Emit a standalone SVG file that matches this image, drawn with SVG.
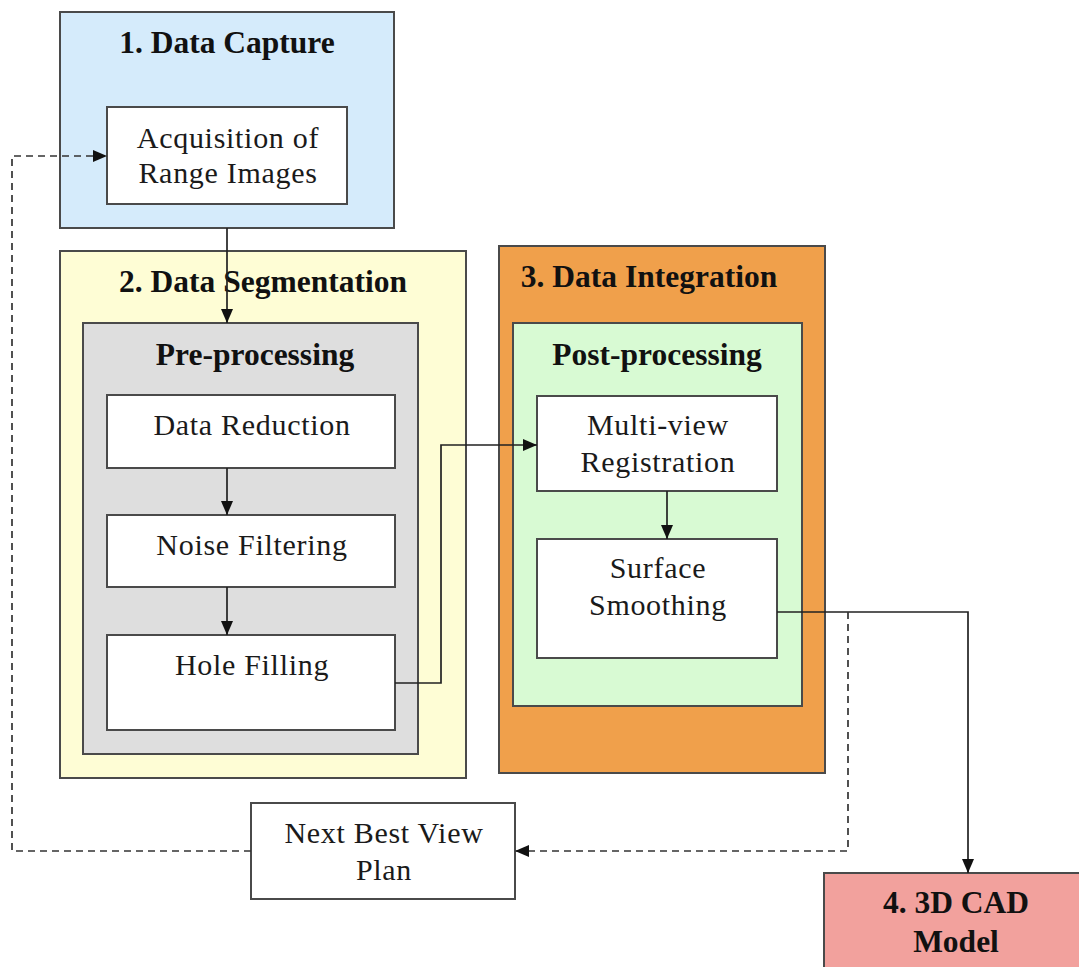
<svg xmlns="http://www.w3.org/2000/svg" width="1079" height="967" viewBox="0 0 1079 967">
<style>
.box{stroke:#4a4a4a;stroke-width:2}
.w{fill:#ffffff}
.t{font-family:"Liberation Serif","Times New Roman",serif;font-size:30px;fill:#1a1a1a;text-anchor:middle;letter-spacing:0.7px}
.b{font-family:"Liberation Serif","Times New Roman",serif;font-size:31.5px;font-weight:bold;fill:#111;text-anchor:middle}
.c{fill:none;stroke:#222;stroke-width:1.7}
.d{fill:none;stroke:#333;stroke-width:1.7;stroke-dasharray:7 5}
</style>
<defs>
<marker id="ah" viewBox="0 0 14 12" refX="14" refY="6" markerWidth="14" markerHeight="12" markerUnits="userSpaceOnUse" orient="auto">
<path d="M0,0 L14,6 L0,12 Z" fill="#111"/>
</marker>
</defs>
<rect width="1079" height="967" fill="#ffffff"/>

<g id="data-capture">
<rect class="box" x="60" y="12" width="334" height="216" fill="#d5ebfb"/>
<text class="b" x="227" y="53">1. Data Capture</text>
</g>
<g id="acquisition">
<rect class="box w" x="107" y="107" width="240" height="97"/>
<text class="t" x="228" y="148">Acquisition of</text>
<text class="t" x="228" y="183">Range Images</text>
</g>

<g id="data-segmentation">
<rect class="box" x="60" y="251" width="406" height="527" fill="#fefdd5"/>
<text class="b" x="263" y="292">2. Data Segmentation</text>
</g>
<g id="pre-processing">
<rect class="box" x="83" y="323" width="335" height="431" fill="#dedede"/>
<text class="b" x="255" y="365">Pre-processing</text>
</g>
<g id="data-reduction">
<rect class="box w" x="107" y="395" width="288" height="73"/>
<text class="t" x="252" y="435">Data Reduction</text>
</g>
<g id="noise-filtering">
<rect class="box w" x="107" y="515" width="288" height="72"/>
<text class="t" x="252" y="555">Noise Filtering</text>
</g>
<g id="hole-filling">
<rect class="box w" x="107" y="635" width="288" height="95"/>
<text class="t" x="252" y="675">Hole Filling</text>
</g>

<g id="data-integration">
<rect class="box" x="499" y="246" width="326" height="527" fill="#f0a04b"/>
<text class="b" x="649" y="287">3. Data Integration</text>
</g>
<g id="post-processing">
<rect class="box" x="513" y="323" width="289" height="383" fill="#d8fad3"/>
<text class="b" x="657" y="365">Post-processing</text>
</g>
<g id="multi-view">
<rect class="box w" x="537" y="396" width="240" height="95"/>
<text class="t" x="658" y="435">Multi-view</text>
<text class="t" x="658" y="472">Registration</text>
</g>
<g id="surface-smoothing">
<rect class="box w" x="537" y="539" width="240" height="119"/>
<text class="t" x="658" y="578">Surface</text>
<text class="t" x="658" y="615">Smoothing</text>
</g>

<g id="next-best-view">
<rect class="box w" x="251" y="803" width="264" height="96"/>
<text class="t" x="384" y="843">Next Best View</text>
<text class="t" x="384" y="880">Plan</text>
</g>

<g id="cad-model">
<rect class="box" x="824" y="873" width="265" height="110" fill="#f2a19d"/>
<text class="b" x="956" y="913">4. 3D CAD</text>
<text class="b" x="956" y="952">Model</text>
</g>

<g id="connectors">
<path class="c" d="M227,228 V323" marker-end="url(#ah)"/>
<path class="c" d="M227,468 V515" marker-end="url(#ah)"/>
<path class="c" d="M227,587 V635" marker-end="url(#ah)"/>
<path class="c" d="M395,683 H441 V445 H537" marker-end="url(#ah)"/>
<path class="c" d="M667,491 V539" marker-end="url(#ah)"/>
<path class="c" d="M777,612 H968 V873" marker-end="url(#ah)"/>
<path class="d" d="M848,612 V851 H515" marker-end="url(#ah)"/>
<path class="d" d="M251,851 H12 V156 H107" marker-end="url(#ah)"/>
</g>
</svg>
